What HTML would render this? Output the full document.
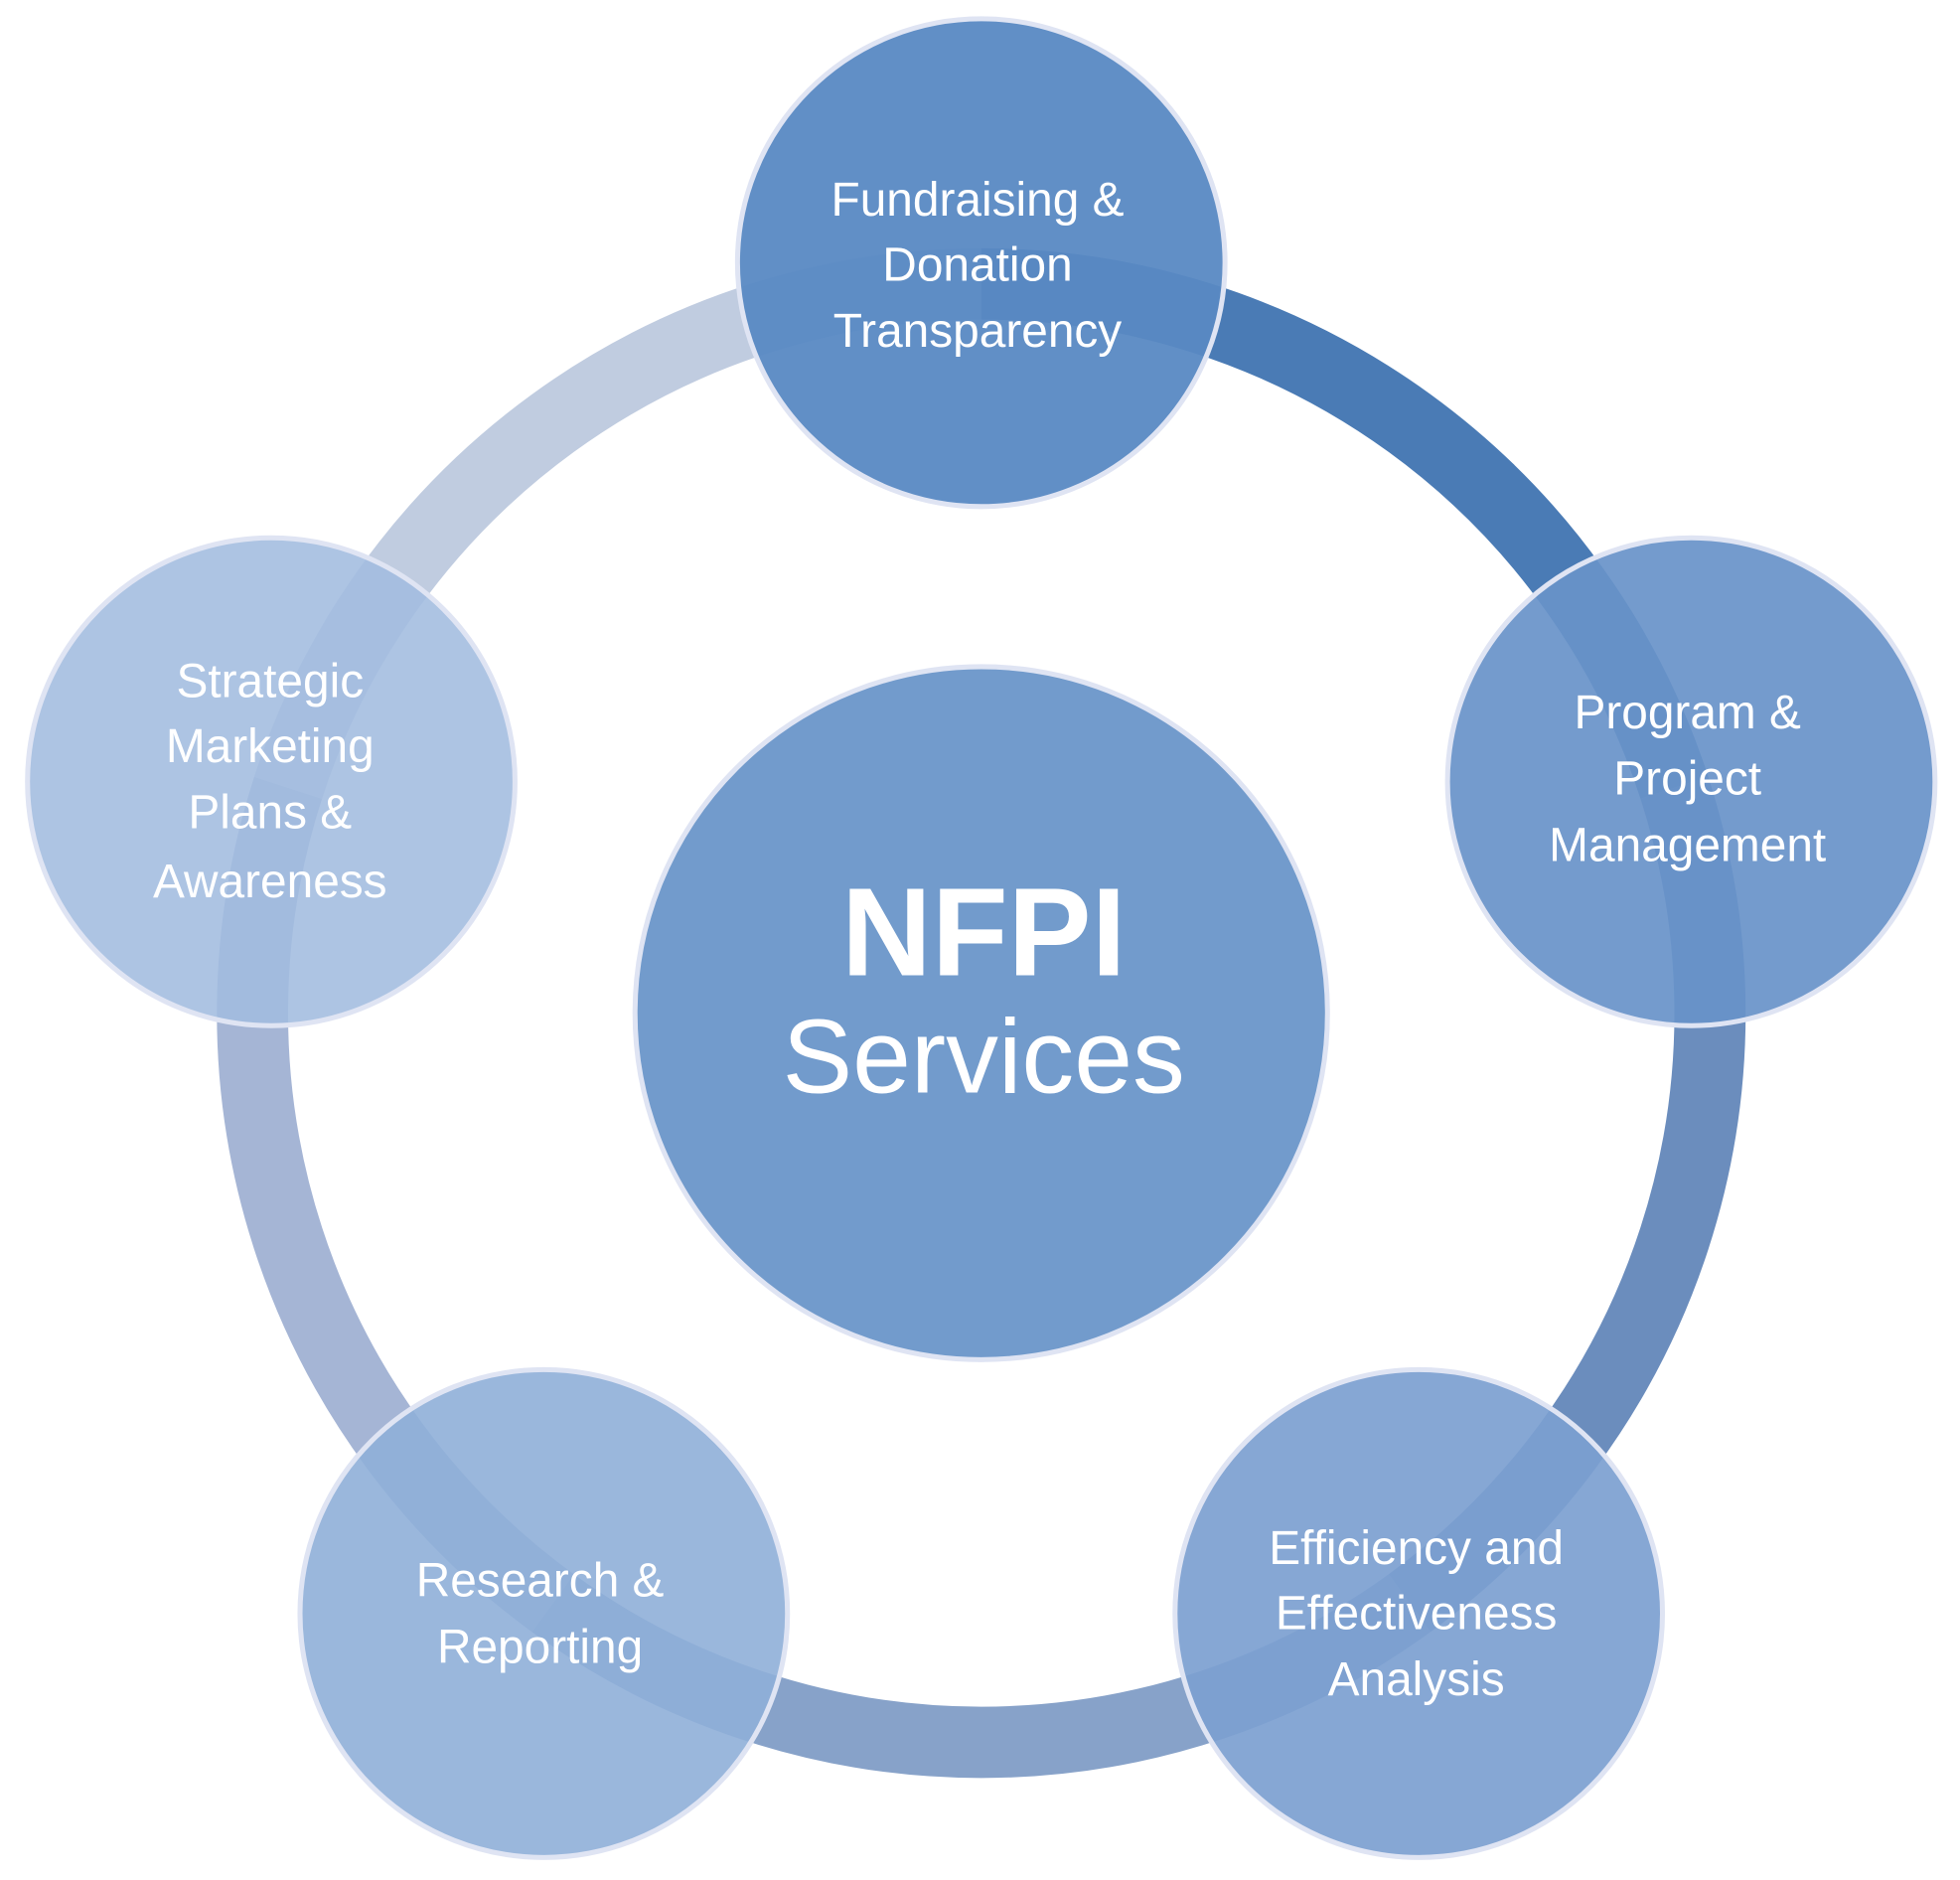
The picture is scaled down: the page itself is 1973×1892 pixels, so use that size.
<!DOCTYPE html>
<html><head><meta charset="utf-8"><style>
html,body{margin:0;padding:0;background:#fff}
svg{display:block}
text{font-family:"Liberation Sans",sans-serif;fill:#fff;text-anchor:middle;dominant-baseline:central}
</style></head><body>
<svg width="1973" height="1892" viewBox="0 0 1568 1503" preserveAspectRatio="none" xmlns="http://www.w3.org/2000/svg">
<g fill="none" stroke-width="57">
<path d="M785 227 A583 583 0 0 1 1339.5 629.8" stroke="#4a7bb5"/>
<path d="M1339.5 629.8 A583 583 0 0 1 1127.7 1281.6" stroke="#6b8dbd"/>
<path d="M1127.7 1281.6 A583 583 0 0 1 442.3 1281.6" stroke="#87a2c9"/>
<path d="M442.3 1281.6 A583 583 0 0 1 230.5 629.8" stroke="#a5b5d5"/>
<path d="M230.5 629.8 A583 583 0 0 1 785 227" stroke="#c0cce0"/>
</g>
<g stroke="#dfe4f3" stroke-width="4">
<circle cx="785" cy="810" r="277" fill="#729bcc"/>
<circle cx="785" cy="210" r="195" fill="#5889c3" fill-opacity="0.95"/>
<circle cx="1353" cy="625" r="195" fill="#6893c9" fill-opacity="0.92"/>
<circle cx="1135" cy="1290" r="195" fill="#7c9fd0" fill-opacity="0.92"/>
<circle cx="435" cy="1290" r="195" fill="#8fafd8" fill-opacity="0.9"/>
<circle cx="217" cy="625" r="195" fill="#a2bcdf" fill-opacity="0.88"/>
</g>
<g font-size="38">
<text x="782" y="160">Fundraising &amp;</text>
<text x="782" y="212">Donation</text>
<text x="782" y="265">Transparency</text>
<text x="1350" y="570">Program &amp;</text>
<text x="1350" y="623">Project</text>
<text x="1350" y="676">Management</text>
<text x="216" y="545">Strategic</text>
<text x="216" y="597">Marketing</text>
<text x="216" y="650">Plans &amp;</text>
<text x="216" y="705">Awareness</text>
<text x="1133" y="1238">Efficiency and</text>
<text x="1133" y="1290">Effectiveness</text>
<text x="1133" y="1343">Analysis</text>
<text x="432" y="1264">Research &amp;</text>
<text x="432" y="1317">Reporting</text>
</g>
<text x="787" y="745" font-size="100" font-weight="bold">NFPI</text>
<text x="787" y="845" font-size="84">Services</text>
</svg>
</body></html>
